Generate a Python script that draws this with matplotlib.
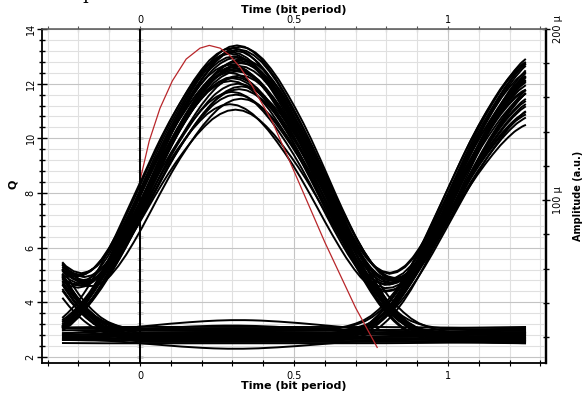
import numpy as np
import matplotlib.pyplot as plt
from matplotlib.ticker import MultipleLocator, FixedLocator, NullFormatter

# half of one bit pulse (fraction of the 1-level above the 0-rail),
# from the pulse centre out to 0.7 bit period in steps of 0.025
pulse_half = [1.0, 0.995, 0.98, 0.957, 0.925, 0.888, 0.845, 0.799, 0.75, 0.697,
              0.64, 0.581, 0.52, 0.46, 0.40, 0.341, 0.285, 0.233, 0.185, 0.142,
              0.105, 0.075, 0.05, 0.032, 0.02, 0.011, 0.005, 0.001, 0.0]
pulse_step = 0.025

# centres (bit period) of the previous, current and next bit
bit_centres = [-0.69, 0.31, 1.31]

# Q level of each bit for every sweep, the zero rail and the timing shift of that sweep
level_prev = [2.8, 12.9, 2.6, 13.2, 2.9, 11.8, 2.7, 12.4, 2.5, 13.0, 3.0, 12.1, 2.7, 12.6, 2.8, 11.5,
              2.6, 13.3, 2.9, 12.8, 2.75, 11.2, 2.6, 12.2, 3.1, 12.7, 2.8, 11.9, 2.7, 13.1, 2.65, 12.3,
              2.8, 12.5, 2.7, 13.35, 2.6, 11.7, 2.9, 12.0, 2.5, 12.85, 2.75, 12.65, 3.0, 11.4, 2.6, 13.0,
              2.7, 12.2, 2.85, 11.1, 2.55, 13.2, 3.05, 12.45, 2.9, 11.9, 2.7, 12.75, 2.8, 12.3, 2.65, 11.6]
level_mid = [13.4, 13.3, 13.35, 13.2, 13.1, 13.25, 13.0, 12.9, 13.15, 12.8, 12.95, 12.7, 12.85, 12.6, 12.75, 12.5,
             12.65, 12.4, 12.55, 12.3, 12.2, 12.45, 12.1, 12.0, 11.9, 12.25, 11.8, 11.7, 11.6, 11.45, 11.25, 11.05,
             2.9, 2.7, 2.8, 2.6, 3.35, 2.8, 2.95, 2.75, 2.3, 3.0, 2.6, 2.85, 3.1, 2.55, 2.7, 2.9,
             2.65, 2.95, 2.8, 2.7, 2.5, 2.75, 3.0, 2.6, 3.15, 2.85, 2.75, 3.05, 2.7, 2.65, 2.9, 2.8]
level_next = [2.7, 2.9, 12.8, 13.0, 3.0, 2.6, 12.5, 12.1, 2.8, 2.7, 13.2, 11.9, 2.6, 3.1, 12.7, 12.3,
              2.9, 2.8, 11.6, 12.9, 2.5, 2.7, 11.0, 12.6, 2.8, 2.9, 12.0, 10.9, 3.0, 2.6, 10.6, 11.4,
              2.75, 2.6, 12.95, 12.4, 2.9, 2.8, 12.2, 11.8, 2.5, 2.9, 11.9, 13.0, 3.05, 2.6, 12.6, 11.5,
              2.7, 3.0, 11.3, 12.85, 2.55, 2.7, 12.3, 12.7, 2.85, 2.9, 11.7, 12.15, 2.6, 2.65, 13.1, 11.1]
zero_rail = [2.7, 2.8, 2.65, 2.9, 2.85, 2.6, 2.75, 2.7, 2.55, 2.8, 2.95, 2.6, 2.7, 3.0, 2.8, 2.65,
             2.75, 2.85, 2.9, 2.7, 2.6, 2.7, 2.65, 2.8, 3.0, 2.75, 2.8, 2.6, 2.7, 2.55, 2.65, 2.9,
             2.8, 2.7, 2.7, 2.65, 2.9, 2.85, 3.0, 2.75, 2.7, 2.95, 2.6, 2.8, 3.1, 2.55, 2.65, 2.9,
             2.6, 3.0, 2.8, 2.7, 2.5, 2.75, 3.05, 2.6, 2.85, 2.9, 2.75, 3.0, 2.65, 2.7, 2.85, 2.8]
sweep_shift = [0.005, -0.01, 0.015, 0.0, -0.018, 0.01, -0.005, 0.02, -0.012, 0.008, 0.002, -0.015, 0.012, -0.008, 0.018, -0.002,
               0.01, -0.02, 0.0, 0.015, -0.01, 0.005, -0.015, 0.008, 0.02, -0.005, 0.012, -0.012, 0.002, 0.018, -0.018, 0.0,
               -0.008, 0.015, -0.015, 0.005, 0.01, -0.002, 0.02, -0.01, 0.0, 0.012, -0.02, 0.008, -0.005, 0.018, -0.012, 0.002,
               0.015, -0.008, 0.01, -0.018, 0.005, 0.0, -0.01, 0.02, -0.015, 0.012, 0.002, -0.005, 0.018, -0.002, 0.008, -0.012]

# red reference trace
red_time = [0.0, 0.03, 0.065, 0.105, 0.15, 0.195, 0.225, 0.26, 0.29, 0.325, 0.36, 0.43, 0.5, 0.6, 0.7, 0.77]
red_q = [8.45, 9.9, 11.1, 12.1, 12.9, 13.3, 13.4, 13.3, 13.05, 12.6, 12.0, 10.6, 8.8, 6.2, 3.8, 2.35]

pulse_shape = pulse_half[::-1] + pulse_half[1:]
pulse_offset = (np.arange(len(pulse_shape)) - (len(pulse_half) - 1)) * pulse_step
sweep_time = np.linspace(-0.25, 1.25, 301)


def amp_from_q(q):
    return 200 - (14 - q) * 15.97


def q_from_amp(a):
    return 14 - (200 - a) / 15.97


fig = plt.figure(figsize=(5.84, 3.94), dpi=100)
ax = fig.add_axes([42 / 584, 1 - 363 / 394, 504 / 584, 334 / 394])

for i in range(len(zero_rail)):
    q = np.full(sweep_time.shape, zero_rail[i])
    for c, lev in zip(bit_centres, (level_prev[i], level_mid[i], level_next[i])):
        d = sweep_time - c - sweep_shift[i]
        q = q + (lev - zero_rail[i]) * np.interp(d, pulse_offset, pulse_shape, left=0, right=0)
    ax.plot(sweep_time, q, color='black', lw=1.4, zorder=2)

ax.plot(red_time, red_q, color='#b8262a', lw=0.9, zorder=3)
ax.axvline(0, color='black', lw=1.4, zorder=4)

ax.set_xlim(-0.318, 1.318)
ax.set_ylim(1.78, 14)

ax.xaxis.set_major_locator(MultipleLocator(0.5))
ax.xaxis.set_minor_locator(MultipleLocator(0.1))
ax.yaxis.set_major_locator(MultipleLocator(2))
ax.yaxis.set_minor_locator(MultipleLocator(0.4))
ax.grid(which='major', color='#c4c4c4', lw=0.8)
ax.grid(which='minor', color='#e0e0e0', lw=0.8)
ax.set_axisbelow(True)

ax.set_xticks([0, 0.5, 1])
ax.set_xticklabels(['0', '0.5', '1'])
ax.tick_params(axis='x', which='both', direction='inout', length=4, width=0.8,
               labelsize=7, pad=4)
ax.tick_params(axis='y', which='major', direction='inout', length=7, width=1,
               labelsize=7, pad=1, labelrotation=90)
ax.tick_params(axis='y', which='minor', direction='inout', length=5, width=1)
for lab in ax.get_yticklabels():
    lab.set_va('center')

ax.spines['left'].set_linewidth(1.3)
ax.spines['bottom'].set_linewidth(1.3)
ax.spines['bottom'].set_linestyle((0, (1, 1)))
ax.spines['top'].set_linewidth(1.1)
ax.spines['top'].set_color('#555555')
ax.spines['right'].set_linewidth(1.6)

ax.set_xlabel('Time (bit period)', fontsize=8, fontweight='bold', labelpad=0)
ax.set_ylabel('Q', fontsize=8, fontweight='bold')
ax.yaxis.set_label_coords(-0.047, 0.536)

# top time axis
top = ax.secondary_xaxis('top')
top.set_xticks([0, 0.5, 1], labels=['0', '0.5', '1'])
top.xaxis.set_minor_locator(MultipleLocator(0.1))
top.tick_params(which='both', direction='inout', length=4, width=0.8, labelsize=7, pad=1,
                color='#555555')
top.set_xlabel('Time (bit period)', fontsize=8, fontweight='bold', labelpad=1.5)
top.spines['top'].set_visible(False)

# tick marks along the vertical axis through t = 0
mid = ax.secondary_yaxis((0 - (-0.318)) / 1.636)
mid.yaxis.set_major_locator(MultipleLocator(2))
mid.yaxis.set_minor_locator(MultipleLocator(0.4))
mid.yaxis.set_major_formatter(NullFormatter())
mid.tick_params(which='both', direction='inout', length=5, width=1)
mid.spines['left'].set_visible(False)

# amplitude axis on the right
right = ax.secondary_yaxis('right', functions=(amp_from_q, q_from_amp))
right.yaxis.set_major_locator(FixedLocator([100, 200]))
right.yaxis.set_minor_locator(MultipleLocator(20))
right.set_yticklabels(['100 \u00b5', '200 \u00b5'], rotation=90, va='center')
right.tick_params(which='major', direction='inout', length=6, width=1, labelsize=7, pad=2)
right.tick_params(which='minor', direction='inout', length=4, width=1)
right.set_ylabel('Amplitude (a.u.)', fontsize=7, fontweight='bold', labelpad=7)
right.spines['right'].set_linewidth(1.6)

# clipped caption text above the figure (only its descender shows)
fig.text(88 / 584, 1 + 1 / 394, 'p', family='DejaVu Serif', fontsize=13, va='baseline', ha='center')

fig.savefig('out.png', dpi=100)
